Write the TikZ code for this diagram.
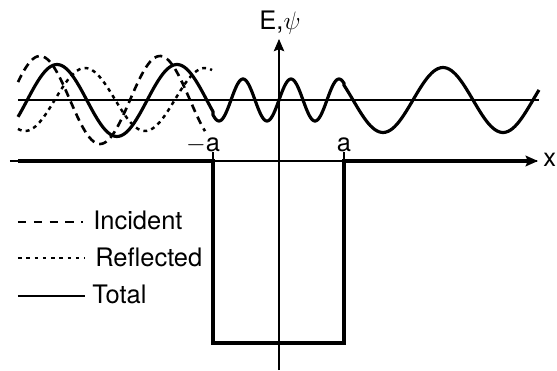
\documentclass[tikz,border=0pt]{standalone}
\usepackage{fontspec}
\setmainfont{TeX Gyre Heros}
\usetikzlibrary{arrows.meta}

\begin{document}
\begin{tikzpicture}[x=0.02cm, y=0.02cm, >={Stealth[length=7pt, width=6pt, inset=1.2pt]},
      every node/.style={font=\fontsize{14.5}{16}\selectfont, inner sep=0pt},
      axis/.style={line width=0.6pt},
      well/.style={line width=2.2pt},
      tot/.style={line width=1.8pt},
      inc/.style={line width=1.5pt, dash pattern=on 4.5pt off 3pt},
      refl/.style={line width=1.4pt, dash pattern=on 2.2pt off 2.4pt},
      lgd/.style={line width=1.1pt}]

    % Frame (reference margins)
    \useasboundingbox (-279,-210) rectangle (278,161);

    % Wave baseline
    \def\yb{61}

    % Axes
    \draw[axis] (-269,0) -- (258,0);
    \draw[axis,->] (0,-209) -- (0,122);
    \draw[axis] (-66,0) -- (-66,9);
    \draw[axis] (65,0) -- (65,9);
    \draw[axis] (-261,\yb) -- (260,\yb);

    % Potential well
    \draw[well,->] (-261,0) -- (-66,0) -- (-66,-182) -- (65,-182) -- (65,0) -- (259,0);

    % Incident and reflected waves (left of the well)
    \draw[inc] plot[domain=-261:-74, samples=90, smooth] (\x, {\yb+44*cos(3*(\x+239))});
    \draw[refl] plot[domain=-261:-67, samples=90, smooth] (\x, {\yb+0.5+31.5*cos(3*(\x+194))});

    % Total wave
    \draw[tot] plot[domain=-261:-66, samples=90, smooth] (\x, {\yb-0.5+36*cos(3*(\x+222))})
      -- plot[domain=-66:65, samples=130, smooth] (\x, {\yb+21*sin(7.5*\x)})
      -- plot[domain=65:260, samples=90, smooth] (\x, {\yb-32.5*cos(3*(\x-104))});

    % Labels
    \node[anchor=base] (Elbl) at (1,131) {E,$\psi$};
    \node[anchor=west] (xlbl) at (264,1) {x};
    \node[anchor=base] (malbl) at (-66,9) {\llap{$-$}a};
    \node[anchor=base] (albl) at (65,9) {a};

    % Legend
    \draw[lgd, dash pattern=on 4.6pt off 4.4pt] (-261,-61) -- (-196,-61);
    \node[anchor=base west] (incLbl) at (-186,-69) {Incident};
    \draw[lgd, dash pattern=on 2pt off 2.7pt] (-261,-97) -- (-194,-97);
    \node[anchor=base west] (reflLbl) at (-184,-106) {Reflected};
    \draw[lgd] (-261,-135) -- (-194,-135);
    \node[anchor=base west] (totLbl) at (-187,-142) {Total};

\end{tikzpicture}
\end{document}
